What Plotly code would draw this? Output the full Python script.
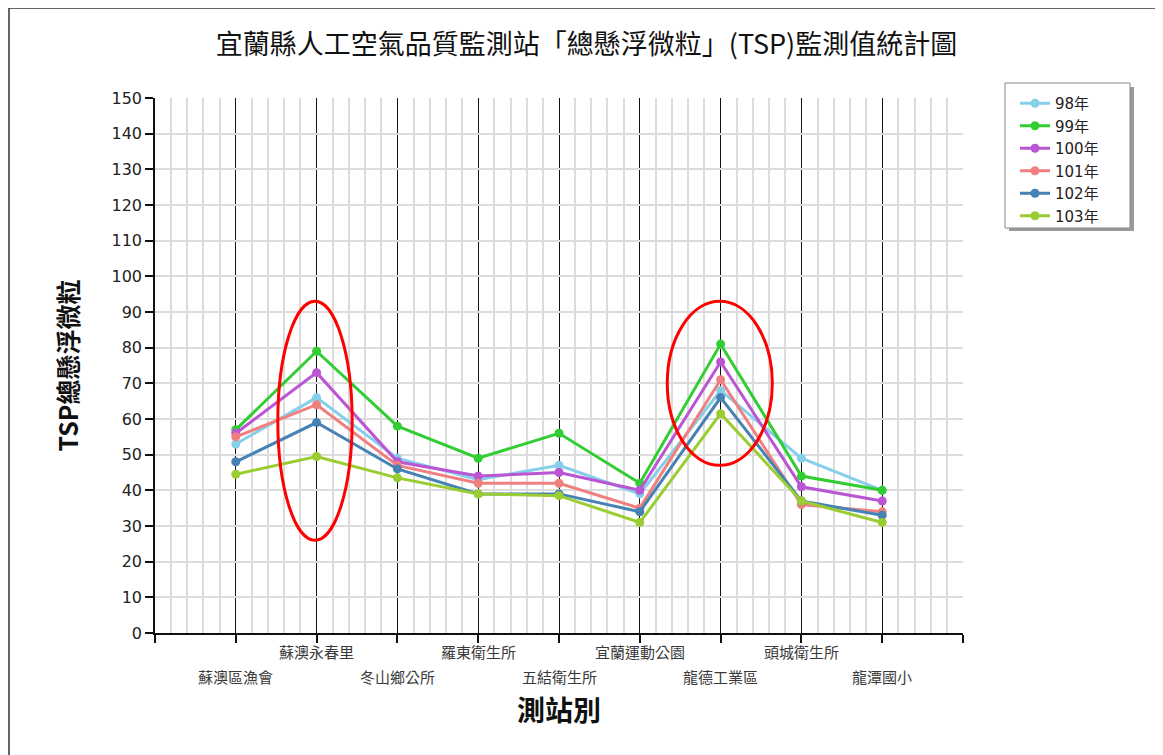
import plotly.graph_objects as go

# ---------------- data ----------------
stations = ["蘇澳區漁會", "蘇澳永春里", "冬山鄉公所", "羅東衛生所", "五結衛生所",
            "宜蘭運動公園", "龍德工業區", "頭城衛生所", "龍潭國小"]
years = ["98年", "99年", "100年", "101年", "102年", "103年"]
v98 = [53, 66, 49, 43, 47, 39, 68, 49, 40]
v99 = [57, 79, 58, 49, 56, 42, 81, 44, 40]
v100 = [56, 73, 48, 44, 45, 40, 76, 41, 37]
v101 = [55, 64, 47, 42, 42, 35, 71, 36, 34]
v102 = [48, 59, 46, 39, 39, 34, 66, 37, 33]
v103 = [44.5, 49.5, 43.5, 39, 38.5, 31, 61.5, 37, 31]
series = [v98, v99, v100, v101, v102, v103]
colors = ["#87CEEB", "#32CD32", "#BA55D3", "#F08080", "#4682B4", "#9ACD32"]

y_ticks = list(range(0, 151, 10))

# highlight ellipses (in data units: category index, value)
ellipses = [(0.52, 26, 1.44, 93), (5.34, 47, 6.64, 93)]

# ---------------- layout geometry (page pixel coords) ----------------
PAGE_W, PAGE_H = 1163, 755
OFF = 8  # default body margin of the html page
W, H = PAGE_W - OFF, PAGE_H - OFF
L, R, T, B = 155, 963, 98, 633


def px_x(p):
    return (p - L) / (R - L)


def px_y(p):
    return (B - p) / (B - T)


NUM = "DejaVu Sans, Noto Sans CJK TC, sans-serif"
CJK = "Noto Sans CJK TC, sans-serif"

fig = go.Figure()
x_idx = list(range(len(stations)))
for name, vals, c in zip(years, series, colors):
    fig.add_trace(go.Scatter(
        x=x_idx, y=vals, name=name, mode="lines+markers",
        line=dict(color=c, width=3),
        marker=dict(color=c, size=9),
    ))

annotations = []
for i, s in enumerate(stations):
    annotations.append(dict(
        x=i, y=0, xref="x", yref="paper", text=s, showarrow=False,
        yanchor="middle", xanchor="center",
        yshift=-(676 - B) if i % 2 == 0 else -(651 - B),
        font=dict(family=CJK, size=15, color="#3a3a3a"),
    ))

shapes = []
# outer frame
shapes.append(dict(type="rect", xref="paper", yref="paper",
                   x0=px_x(9), y0=px_y(8), x1=px_x(PAGE_W + 20), y1=px_y(PAGE_H + 20),
                   line=dict(color="#333333", width=1.5), fillcolor="rgba(0,0,0,0)",
                   layer="below"))
# legend shadow + box
shapes.append(dict(type="rect", xref="paper", yref="paper",
                   x0=px_x(1009), y0=px_y(87), x1=px_x(1134), y1=px_y(231),
                   line=dict(width=0), fillcolor="#9a9a9a", layer="below"))
shapes.append(dict(type="rect", xref="paper", yref="paper",
                   x0=px_x(1005), y0=px_y(83), x1=px_x(1130), y1=px_y(228),
                   line=dict(color="#888888", width=1), fillcolor="white", layer="below"))
for (x0, y0, x1, y1) in ellipses:
    shapes.append(dict(type="circle", xref="x", yref="y", x0=x0, y0=y0, x1=x1, y1=y1,
                       line=dict(color="#FF0000", width=3)))

fig.update_layout(
    width=W, height=H,
    margin=dict(l=L - OFF, r=W - (R - OFF), t=T - OFF, b=H - (B - OFF)),
    paper_bgcolor="white", plot_bgcolor="white",
    title=dict(text="宜蘭縣人工空氣品質監測站「總懸浮微粒」(TSP)監測值統計圖",
               x=((213 + 960) / 2 - OFF) / W, xanchor="center",
               y=1 - (45 - OFF) / H, yanchor="middle",
               font=dict(family=CJK, size=27, color="#111111")),
    showlegend=True,
    legend=dict(x=px_x(1015), y=px_y(87), xanchor="left", yanchor="top",
                bgcolor="rgba(0,0,0,0)", borderwidth=0,
                font=dict(family=NUM, size=15, color="#222222"),
                tracegroupgap=0, itemwidth=30),
    annotations=annotations,
    shapes=shapes,
)

fig.update_xaxes(
    range=[-1, 9], tickmode="linear", tick0=0, dtick=1,
    showticklabels=False, ticks="outside", ticklen=8, tickwidth=1.5, tickcolor="#111111",
    showgrid=True, gridcolor="#111111", gridwidth=1.2,
    minor=dict(dtick=0.2, tick0=-1, showgrid=True, gridcolor="#dcdcdc", gridwidth=1.5, ticks=""),
    showline=True, linecolor="#111111", linewidth=1.5,
    zeroline=False, fixedrange=True,
    title=dict(text="<b>測站別</b>", standoff=60,
               font=dict(family=CJK, size=28, color="#111111")),
)
fig.update_yaxes(
    range=[0, 150], tickmode="array", tickvals=y_ticks, ticktext=[str(v) for v in y_ticks],
    ticks="outside", ticklen=8, tickwidth=1.5, tickcolor="#111111",
    tickfont=dict(family=NUM, size=16, color="#222222"),
    showgrid=True, gridcolor="#dcdcdc", gridwidth=1.5,
    showline=True, linecolor="#111111", linewidth=1.5,
    zeroline=False, fixedrange=True,
    title=dict(text="<b>TSP總懸浮微粒</b>", standoff=26,
               font=dict(family=CJK, size=25, color="#111111")),
)

fig.write_html("out.html")
